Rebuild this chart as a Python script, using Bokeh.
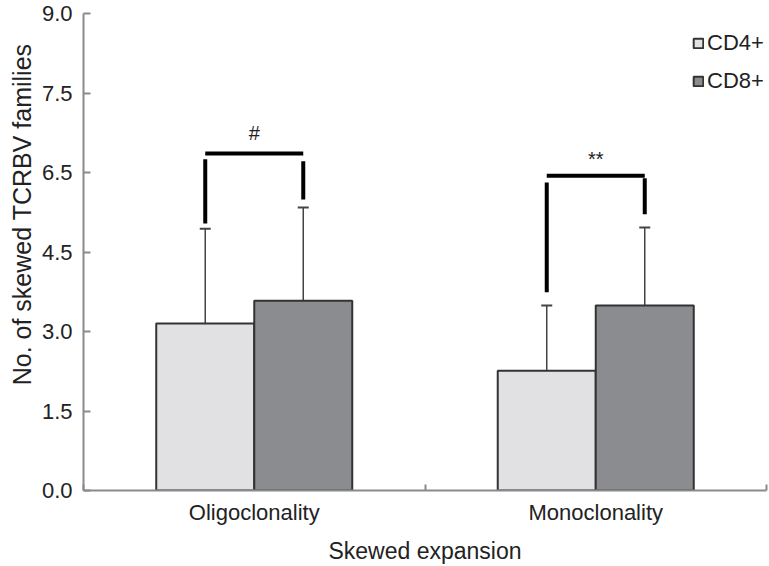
import numpy as np
from bokeh.plotting import figure
from bokeh.models import (Range1d, FixedTicker, Legend, LegendItem, Whisker,
                          ColumnDataSource, TeeHead, Title)
from bokeh.core.properties import value
from bokeh.embed import file_html
from bokeh.resources import INLINE

# ---- data ----
categories = ["Oligoclonality", "Monoclonality"]
series = ["CD4+", "CD8+"]
cd4_mean = [3.15, 2.26]
cd8_mean = [3.58, 3.49]
cd4_err_top = [4.94, 3.49]
cd8_err_top = [5.34, 4.96]
y_ticks = [0.0, 1.5, 3.0, 4.5, 6.0, 7.5, 9.0]
y_tick_labels = ["0.0", "1.5", "3.0", "4.5", "6.5", "7.5", "9.0"]
# significance brackets
sig_labels = ["#", "**"]
sig_text_y = [6.74, 6.26]
bracket_y = [6.36, 5.94]
left_leg_top = [6.25, 5.81]
left_leg_bottom = [5.04, 3.74]
right_leg_top = [6.21, 5.89]
right_leg_bottom = [5.49, 5.21]

FONT = "Liberation Sans"
TXT = "#222222"
AXC = "#8a8a8a"
fills = ["#e1e1e3", "#8b8c8f"]

bar_w = 0.287
centers = np.arange(len(categories)) + 0.5
x4 = centers - bar_w / 2
x8 = centers + bar_w / 2

p = figure(width=768, height=566, output_backend="svg", toolbar_location=None,
           x_range=Range1d(0, len(categories)), y_range=Range1d(0, 9),
           min_border_left=83, min_border_right=2, min_border_top=13,
           min_border_bottom=76)
p.outline_line_color = None
p.xgrid.visible = False
p.ygrid.visible = False
p.background_fill_color = "white"
p.border_fill_color = "white"

src = ColumnDataSource(dict(x4=x4, x8=x8, cd4=cd4_mean, cd8=cd8_mean,
                            e4=cd4_err_top, e8=cd8_err_top))

# error bars (upper only)
for xk, mk, ek in [("x4", "cd4", "e4"), ("x8", "cd8", "e8")]:
    w = Whisker(source=src, base=xk, upper=ek, lower=mk, dimension="height",
                line_color="#444444", line_width=1.5,
                upper_head=TeeHead(size=11, line_color="#444444", line_width=2),
                lower_head=None)
    p.add_layout(w)

r4 = p.vbar(x="x4", top="cd4", width=bar_w, source=src, fill_color=fills[0],
            line_color="#333333", line_width=2)
r8 = p.vbar(x="x8", top="cd8", width=bar_w, source=src, fill_color=fills[1],
            line_color="#333333", line_width=2)

# significance brackets
p.segment(x0=x4, x1=x8, y0=bracket_y, y1=bracket_y, line_color="black", line_width=4)
p.segment(x0=x4, x1=x4, y0=left_leg_bottom, y1=left_leg_top, line_color="black", line_width=4)
p.segment(x0=x8, x1=x8, y0=right_leg_bottom, y1=right_leg_top, line_color="black", line_width=4)
p.text(x=centers, y=sig_text_y, text=sig_labels, text_font=value(FONT),
       text_font_size="20px", text_align="center", text_baseline="middle",
       text_color=TXT)

# axes
ya = p.yaxis[0]
ya.ticker = FixedTicker(ticks=y_ticks)
ya.major_label_overrides = {t: l for t, l in zip(y_ticks, y_tick_labels)}
ya.major_tick_in = 7
ya.major_tick_out = 0
ya.minor_tick_line_color = None
ya.axis_line_color = AXC
ya.axis_line_width = 2
ya.major_tick_line_color = AXC
ya.major_tick_line_width = 2
ya.major_label_text_font = FONT
ya.major_label_text_font_size = "22px"
ya.major_label_text_color = TXT
ya.major_label_standoff = 11

ytitle = Title(text="No. of skewed TCRBV families", align="right", offset=30,
               text_font=FONT, text_font_size="25px", text_font_style="normal",
               text_color=TXT, standoff=5)
p.add_layout(ytitle, "left")

xa = p.xaxis[0]
xa.ticker = FixedTicker(ticks=list(centers),
                        minor_ticks=list(range(len(categories) + 1)))
xa.major_label_overrides = {float(c): n for c, n in zip(centers, categories)}
xa.major_tick_line_color = None
xa.major_tick_in = 0
xa.major_tick_out = 0
xa.minor_tick_in = 6
xa.minor_tick_out = 0
xa.minor_tick_line_color = AXC
xa.minor_tick_line_width = 2
xa.axis_line_color = AXC
xa.axis_line_width = 2
xa.major_label_text_font = FONT
xa.major_label_text_font_size = "22px"
xa.major_label_text_color = TXT
xa.major_label_standoff = 9
xa.axis_label = "Skewed expansion"
xa.axis_label_text_font = FONT
xa.axis_label_text_font_size = "23px"
xa.axis_label_text_font_style = "normal"
xa.axis_label_text_color = TXT
xa.axis_label_standoff = 10

legend = Legend(items=[LegendItem(label=series[0], renderers=[r4]),
                       LegendItem(label=series[1], renderers=[r8])],
                location=(609, 396), orientation="vertical",
                glyph_width=12, glyph_height=12, label_standoff=3,
                spacing=12, padding=0, margin=0,
                label_text_font=FONT, label_text_font_size="22px",
                label_text_color=TXT, background_fill_alpha=0,
                border_line_color=None)
p.add_layout(legend)

open("out.html", "w").write(file_html(p, INLINE))
